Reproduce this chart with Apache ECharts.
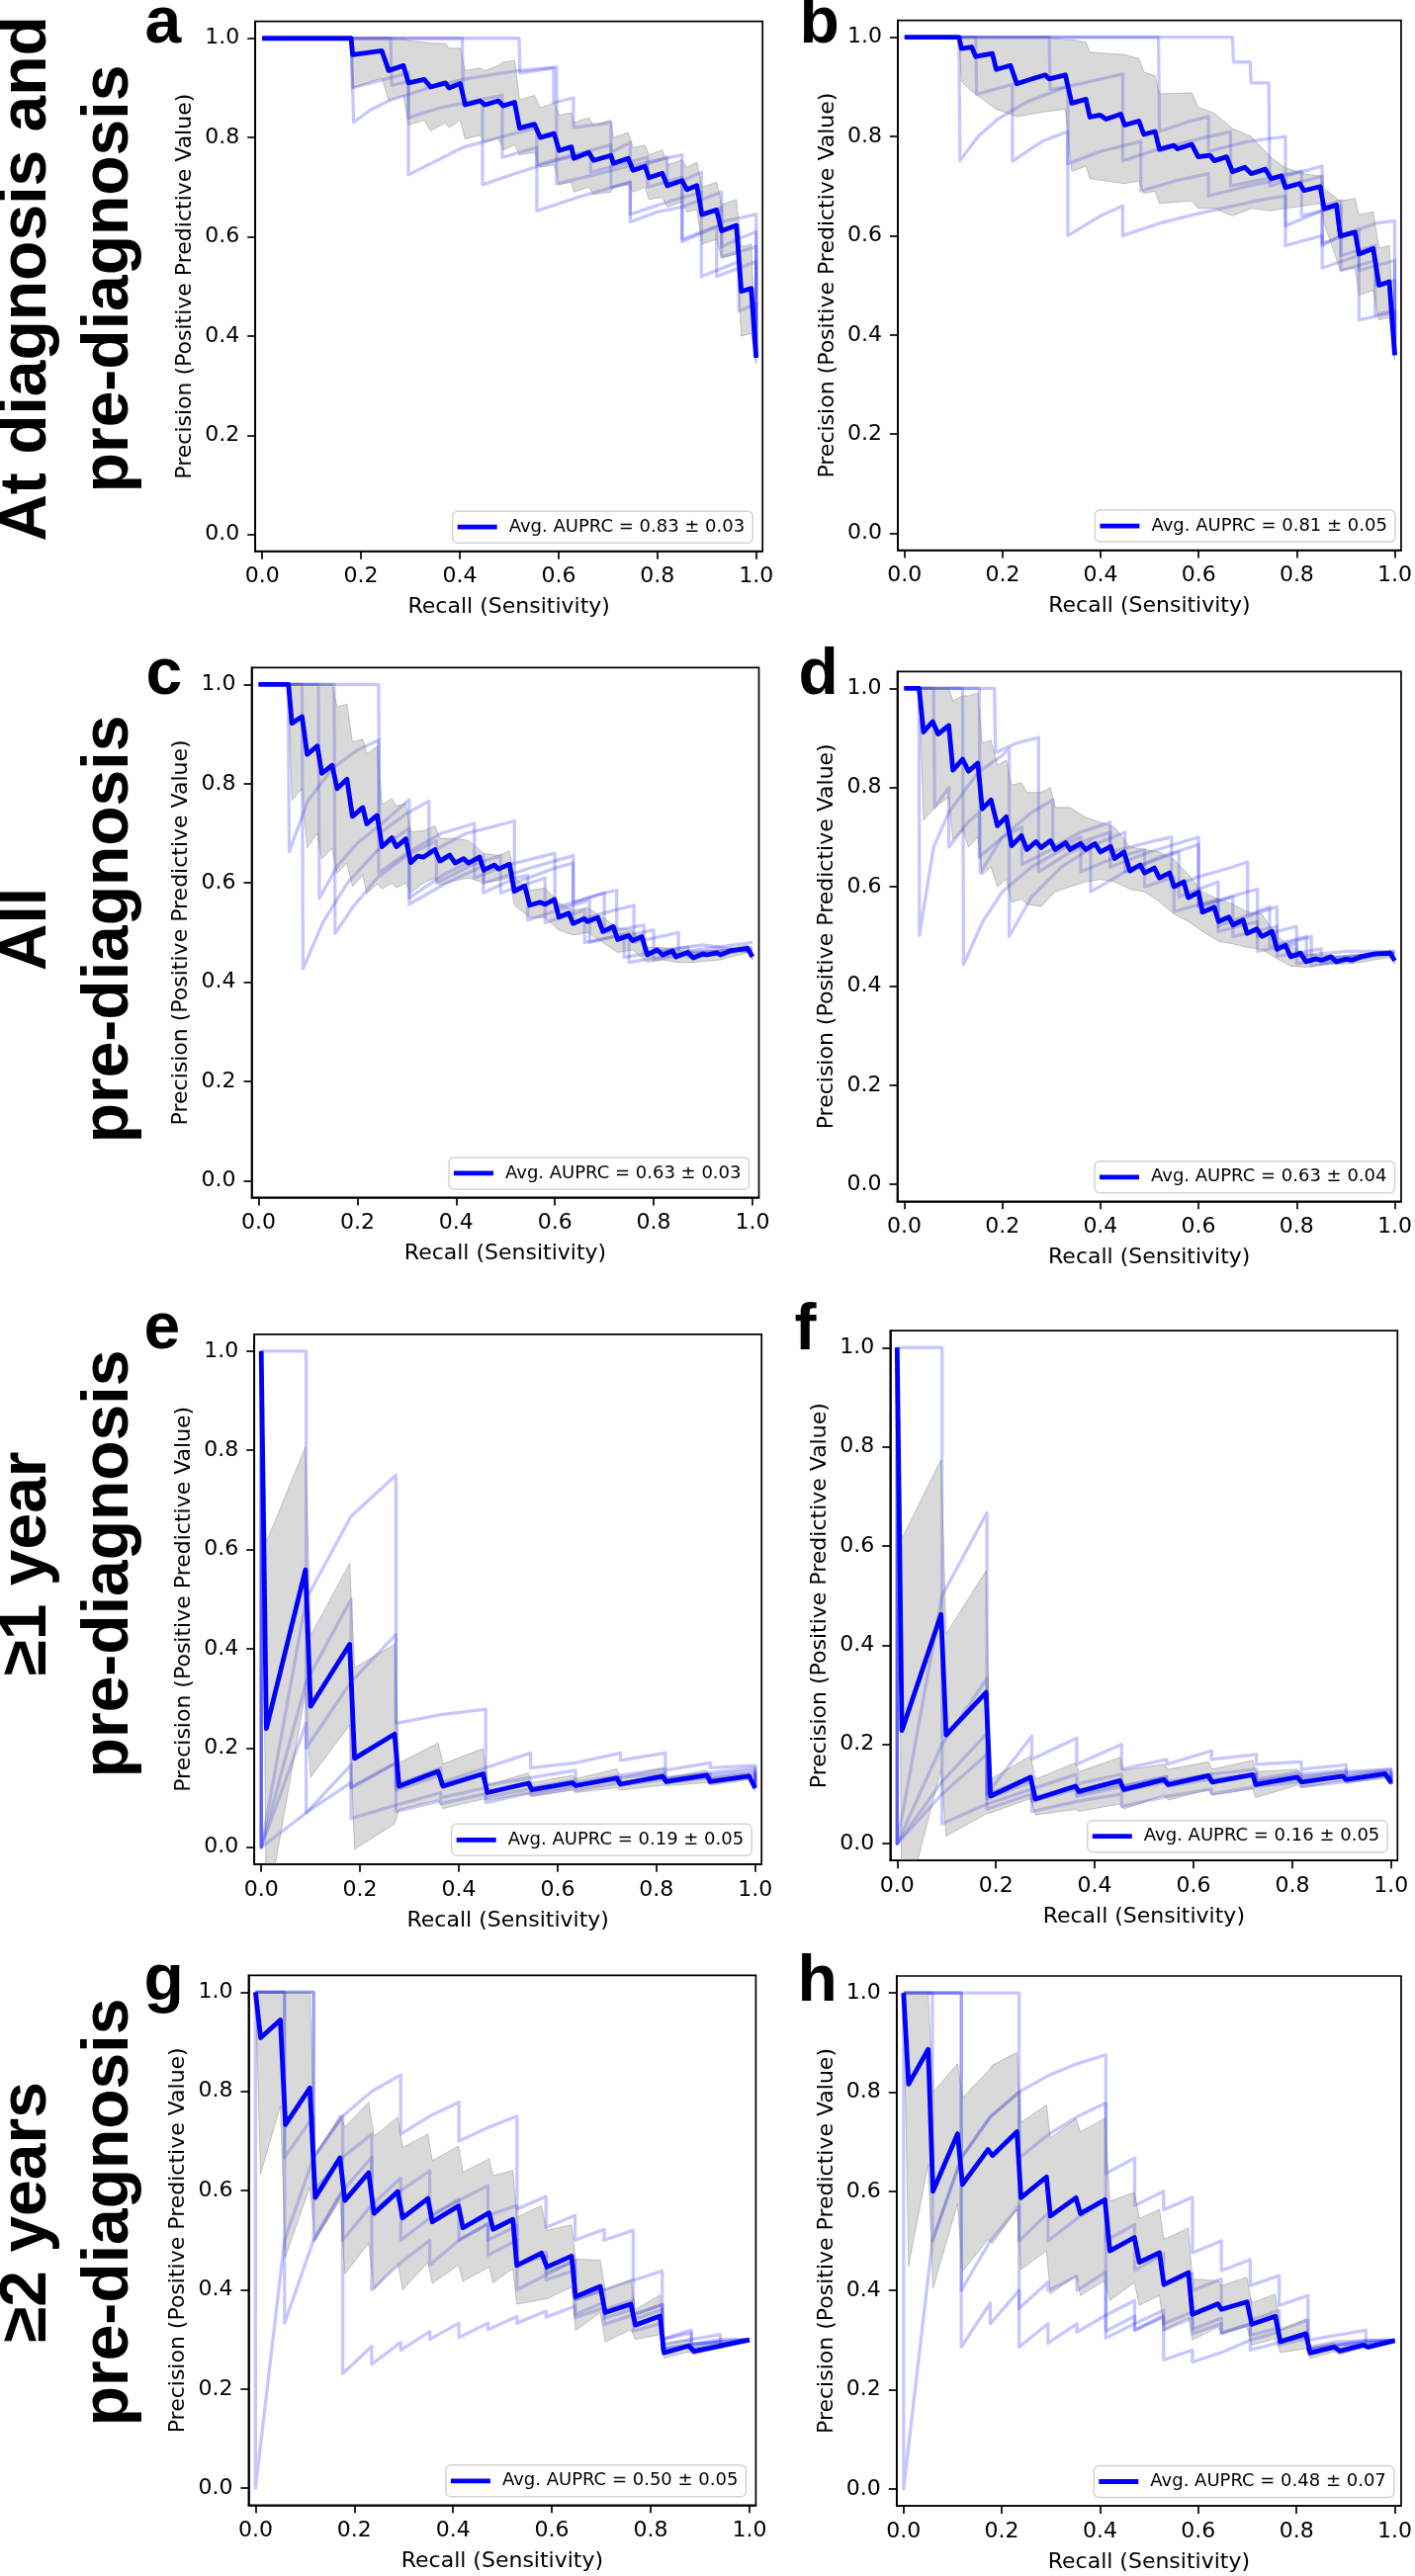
<!DOCTYPE html>
<html>
<head>
<meta charset="utf-8">
<script src="https://cdn.jsdelivr.net/npm/echarts@6/dist/echarts.min.js"></script>
<style>
html,body{margin:0;padding:0;background:#fff;}
#chart{width:1431px;height:2606px;}
</style>
</head>
<body>
<div id="chart"></div>
<script>
// ---------------- DATA ----------------
const xTicks = [0, 0.2, 0.4, 0.6, 0.8, 1.0];
const yTicks = [0, 0.2, 0.4, 0.6, 0.8, 1.0];
const rowTitles = [["At diagnosis and", "pre-diagnosis"], ["All", "pre-diagnosis"], ["\u22651 year", "pre-diagnosis"], ["\u22652 years", "pre-diagnosis"]];
const panelLetters = ["a", "b", "c", "d", "e", "f", "g", "h"];
const aucLabels = ["Avg. AUPRC = 0.83 \u00b1 0.03", "Avg. AUPRC = 0.81 \u00b1 0.05", "Avg. AUPRC = 0.63 \u00b1 0.03", "Avg. AUPRC = 0.63 \u00b1 0.04",
                   "Avg. AUPRC = 0.19 \u00b1 0.05", "Avg. AUPRC = 0.16 \u00b1 0.05", "Avg. AUPRC = 0.50 \u00b1 0.05", "Avg. AUPRC = 0.48 \u00b1 0.07"];

// Panel a
const meanA = [[0,1],[0.18,1],[0.183,0.967],[0.242,0.975],[0.256,0.935],[0.286,0.945],[0.296,0.91],[0.328,0.917],[0.341,0.902],[0.371,0.91],[0.378,0.9],[0.401,0.909],[0.411,0.866],[0.441,0.874],[0.451,0.866],[0.478,0.874],[0.488,0.864],[0.511,0.871],[0.521,0.819],[0.551,0.827],[0.563,0.8],[0.591,0.808],[0.601,0.774],[0.626,0.781],[0.631,0.758],[0.661,0.77],[0.671,0.754],[0.706,0.764],[0.711,0.748],[0.741,0.758],[0.751,0.734],[0.775,0.742],[0.783,0.719],[0.81,0.728],[0.82,0.703],[0.85,0.713],[0.86,0.695],[0.88,0.703],[0.89,0.645],[0.92,0.654],[0.93,0.612],[0.96,0.623],[0.97,0.49],[0.99,0.496],[1.0,0.356]];
const bandA = [[0,1,1],[0.18,1,1],[0.183,0.90,1],[0.242,0.92,1],[0.256,0.876,1],[0.286,0.885,1],[0.296,0.825,0.995],[0.328,0.835,0.992],[0.341,0.813,0.99],[0.371,0.83,0.99],[0.378,0.82,0.98],[0.401,0.835,0.98],[0.411,0.797,0.935],[0.441,0.805,0.94],[0.451,0.79,0.935],[0.478,0.80,0.945],[0.488,0.775,0.952],[0.511,0.785,0.955],[0.521,0.765,0.876],[0.551,0.77,0.885],[0.563,0.74,0.86],[0.591,0.745,0.87],[0.601,0.705,0.845],[0.626,0.71,0.85],[0.631,0.69,0.83],[0.661,0.70,0.84],[0.671,0.685,0.825],[0.706,0.69,0.835],[0.711,0.70,0.80],[0.741,0.705,0.81],[0.751,0.69,0.78],[0.775,0.70,0.785],[0.783,0.675,0.765],[0.81,0.68,0.775],[0.82,0.66,0.745],[0.85,0.67,0.755],[0.86,0.65,0.74],[0.88,0.655,0.75],[0.89,0.585,0.70],[0.92,0.595,0.71],[0.93,0.557,0.665],[0.96,0.565,0.675],[0.97,0.40,0.58],[0.99,0.405,0.585],[1.0,0.345,0.37]];
const foldsA = [
 [[0,1],[0.18,1],[0.185,0.831],[0.22,0.856],[0.256,0.874],[0.33,0.898],[0.41,0.918],[0.52,0.935],[0.596,0.942],[0.596,0.707],[0.66,0.722],[0.74,0.742],[0.85,0.765],[0.85,0.66],[0.89,0.675],[0.93,0.69],[0.93,0.58],[0.97,0.598],[1.0,0.61],[1.0,0.36]],
 [[0,1],[0.26,1],[0.262,0.905],[0.296,0.913],[0.296,0.725],[0.35,0.752],[0.406,0.78],[0.48,0.80],[0.556,0.82],[0.556,0.745],[0.63,0.765],[0.706,0.785],[0.706,0.70],[0.745,0.71],[0.745,0.645],[0.82,0.67],[0.889,0.69],[0.889,0.52],[0.965,0.55],[0.965,0.45],[1.0,0.465],[1.0,0.36]],
 [[0,1],[0.405,1],[0.407,0.865],[0.446,0.872],[0.446,0.705],[0.52,0.73],[0.60,0.755],[0.665,0.77],[0.665,0.73],[0.78,0.76],[0.78,0.70],[0.85,0.72],[0.85,0.59],[0.92,0.62],[0.92,0.52],[1.0,0.55],[1.0,0.36]],
 [[0,1],[0.52,1],[0.522,0.93],[0.59,0.94],[0.59,0.87],[0.63,0.88],[0.63,0.82],[0.706,0.83],[0.706,0.77],[0.745,0.79],[0.745,0.735],[0.82,0.76],[0.82,0.70],[0.889,0.73],[0.889,0.64],[0.93,0.66],[0.93,0.63],[1.0,0.645],[1.0,0.36]],
 [[0,1],[0.18,1],[0.183,0.90],[0.22,0.91],[0.296,0.93],[0.296,0.84],[0.36,0.86],[0.486,0.885],[0.486,0.76],[0.556,0.78],[0.556,0.652],[0.64,0.68],[0.745,0.71],[0.745,0.63],[0.80,0.65],[0.85,0.66],[0.85,0.595],[0.93,0.625],[0.93,0.56],[1.0,0.58],[1.0,0.36]]
];

// Panel b
const meanB = [[0,1],[0.111,1],[0.116,0.977],[0.137,0.98],[0.145,0.961],[0.179,0.967],[0.187,0.935],[0.216,0.943],[0.229,0.906],[0.254,0.914],[0.287,0.924],[0.295,0.916],[0.328,0.924],[0.341,0.867],[0.37,0.875],[0.378,0.839],[0.399,0.843],[0.411,0.835],[0.441,0.845],[0.449,0.823],[0.478,0.831],[0.488,0.804],[0.511,0.81],[0.52,0.774],[0.549,0.782],[0.557,0.775],[0.586,0.784],[0.599,0.759],[0.623,0.762],[0.632,0.751],[0.657,0.759],[0.669,0.729],[0.694,0.738],[0.707,0.725],[0.736,0.734],[0.748,0.715],[0.769,0.721],[0.777,0.697],[0.806,0.705],[0.815,0.691],[0.848,0.699],[0.856,0.654],[0.881,0.662],[0.889,0.599],[0.919,0.607],[0.927,0.563],[0.956,0.574],[0.968,0.50],[0.989,0.507],[1.0,0.359]];
const bandB = [[0,1,1],[0.111,1,1],[0.116,0.91,1],[0.145,0.885,1],[0.187,0.855,1],[0.229,0.84,1],[0.287,0.85,1],[0.328,0.855,0.995],[0.341,0.73,0.995],[0.37,0.74,0.99],[0.378,0.715,0.97],[0.449,0.705,0.965],[0.478,0.71,0.957],[0.488,0.685,0.93],[0.511,0.69,0.922],[0.52,0.665,0.886],[0.586,0.67,0.888],[0.599,0.655,0.859],[0.632,0.655,0.847],[0.669,0.64,0.816],[0.707,0.655,0.80],[0.748,0.65,0.757],[0.777,0.655,0.737],[0.815,0.66,0.725],[0.848,0.665,0.72],[0.856,0.625,0.695],[0.889,0.53,0.67],[0.919,0.535,0.675],[0.927,0.48,0.642],[0.956,0.49,0.648],[0.968,0.43,0.575],[0.989,0.435,0.58],[1.0,0.35,0.37]];
const foldsB = [
 [[0,1],[0.111,1],[0.113,0.751],[0.15,0.80],[0.19,0.835],[0.25,0.87],[0.33,0.90],[0.445,0.926],[0.445,0.751],[0.52,0.775],[0.60,0.795],[0.665,0.81],[0.665,0.70],[0.74,0.715],[0.81,0.73],[0.81,0.64],[0.89,0.66],[0.89,0.56],[0.96,0.58],[0.96,0.44],[1.0,0.45],[1.0,0.36]],
 [[0,1],[0.145,1],[0.147,0.885],[0.22,0.905],[0.22,0.75],[0.28,0.79],[0.333,0.81],[0.333,0.60],[0.40,0.64],[0.445,0.66],[0.445,0.60],[0.52,0.625],[0.60,0.645],[0.67,0.66],[0.74,0.675],[0.777,0.68],[0.777,0.58],[0.852,0.60],[0.852,0.535],[0.927,0.56],[0.927,0.43],[1.0,0.445],[1.0,0.36]],
 [[0,1],[0.295,1],[0.297,0.895],[0.333,0.90],[0.333,0.745],[0.40,0.77],[0.482,0.79],[0.482,0.69],[0.55,0.71],[0.62,0.725],[0.62,0.68],[0.70,0.70],[0.777,0.715],[0.777,0.70],[0.852,0.72],[0.852,0.585],[0.927,0.61],[0.927,0.53],[1.0,0.55],[1.0,0.36]],
 [[0,1],[0.518,1],[0.52,0.81],[0.58,0.83],[0.62,0.84],[0.62,0.77],[0.70,0.79],[0.777,0.80],[0.777,0.72],[0.852,0.74],[0.852,0.66],[0.89,0.67],[0.89,0.60],[0.962,0.625],[1.0,0.63],[1.0,0.36]],
 [[0,1],[0.669,1],[0.671,0.95],[0.705,0.95],[0.707,0.908],[0.743,0.908],[0.745,0.70],[0.777,0.71],[0.777,0.62],[0.852,0.65],[0.852,0.58],[0.89,0.60],[0.89,0.53],[0.962,0.55],[0.962,0.50],[1.0,0.51],[1.0,0.36]]
];

// Panel c
const meanC = [[0,1],[0.0606,1],[0.0674,0.922],[0.0881,0.935],[0.0984,0.859],[0.119,0.876],[0.128,0.821],[0.149,0.837],[0.159,0.79],[0.179,0.809],[0.19,0.734],[0.211,0.752],[0.219,0.719],[0.24,0.736],[0.25,0.673],[0.27,0.691],[0.279,0.673],[0.298,0.689],[0.308,0.641],[0.322,0.654],[0.334,0.652],[0.357,0.667],[0.367,0.644],[0.387,0.656],[0.398,0.64],[0.415,0.649],[0.425,0.64],[0.447,0.652],[0.456,0.626],[0.477,0.636],[0.486,0.628],[0.508,0.638],[0.518,0.583],[0.539,0.594],[0.549,0.555],[0.57,0.561],[0.58,0.557],[0.599,0.567],[0.608,0.531],[0.628,0.539],[0.637,0.518],[0.659,0.528],[0.666,0.522],[0.687,0.53],[0.697,0.502],[0.718,0.512],[0.727,0.486],[0.749,0.494],[0.757,0.484],[0.776,0.492],[0.787,0.455],[0.807,0.465],[0.818,0.455],[0.838,0.463],[0.845,0.451],[0.869,0.46],[0.88,0.449],[0.9,0.457],[0.907,0.455],[0.928,0.459],[0.935,0.455],[0.955,0.463],[0.99,0.468],[1.0,0.451]];
const bandC = [[0,1,1],[0.0606,1,1],[0.0674,0.766,1],[0.0881,0.79,1],[0.0984,0.671,1],[0.119,0.70,1],[0.128,0.648,1],[0.149,0.67,1],[0.159,0.62,0.955],[0.179,0.64,0.96],[0.19,0.593,0.884],[0.211,0.615,0.89],[0.219,0.578,0.86],[0.24,0.598,0.875],[0.25,0.588,0.758],[0.27,0.60,0.77],[0.279,0.59,0.755],[0.298,0.60,0.76],[0.308,0.58,0.703],[0.334,0.60,0.705],[0.357,0.61,0.715],[0.367,0.595,0.69],[0.398,0.605,0.69],[0.425,0.61,0.685],[0.456,0.60,0.66],[0.486,0.605,0.655],[0.508,0.61,0.665],[0.518,0.555,0.61],[0.549,0.53,0.585],[0.58,0.53,0.59],[0.608,0.505,0.56],[0.637,0.495,0.545],[0.666,0.50,0.55],[0.697,0.48,0.53],[0.727,0.46,0.51],[0.757,0.465,0.505],[0.787,0.44,0.47],[0.818,0.445,0.47],[0.845,0.44,0.465],[0.88,0.44,0.46],[0.935,0.445,0.465],[0.99,0.46,0.475],[1.0,0.445,0.46]];
const foldsC = [
 [[0,1],[0.243,1],[0.245,0.70],[0.30,0.74],[0.345,0.765],[0.345,0.66],[0.42,0.70],[0.50,0.72],[0.518,0.725],[0.518,0.60],[0.60,0.63],[0.637,0.64],[0.637,0.52],[0.70,0.54],[0.76,0.555],[0.76,0.48],[0.85,0.50],[0.85,0.46],[1.0,0.48]],
 [[0,1],[0.06,1],[0.062,0.663],[0.10,0.766],[0.15,0.831],[0.20,0.868],[0.243,0.888],[0.243,0.62],[0.30,0.66],[0.37,0.70],[0.437,0.72],[0.437,0.61],[0.50,0.635],[0.58,0.655],[0.60,0.66],[0.60,0.55],[0.70,0.58],[0.70,0.50],[0.78,0.515],[0.78,0.46],[0.90,0.475],[1.0,0.46]],
 [[0,1],[0.088,1],[0.09,0.427],[0.13,0.52],[0.18,0.60],[0.24,0.665],[0.305,0.71],[0.305,0.57],[0.38,0.62],[0.455,0.655],[0.455,0.58],[0.52,0.61],[0.545,0.615],[0.545,0.525],[0.62,0.55],[0.67,0.565],[0.67,0.48],[0.75,0.50],[0.75,0.44],[0.87,0.46],[1.0,0.465]],
 [[0,1],[0.121,1],[0.123,0.569],[0.16,0.635],[0.20,0.68],[0.25,0.72],[0.305,0.768],[0.305,0.557],[0.38,0.60],[0.456,0.635],[0.456,0.60],[0.55,0.63],[0.637,0.655],[0.637,0.56],[0.70,0.58],[0.725,0.585],[0.725,0.49],[0.80,0.505],[0.80,0.445],[0.90,0.46],[1.0,0.47]],
 [[0,1],[0.153,1],[0.155,0.498],[0.19,0.55],[0.24,0.61],[0.30,0.655],[0.36,0.685],[0.36,0.60],[0.43,0.635],[0.49,0.655],[0.49,0.58],[0.55,0.60],[0.58,0.61],[0.58,0.52],[0.66,0.545],[0.66,0.48],[0.74,0.495],[0.74,0.45],[0.87,0.47],[0.87,0.45],[1.0,0.465]]
];

// Panel d
const meanD = [[0,1],[0.0303,1],[0.0393,0.912],[0.0579,0.933],[0.069,0.908],[0.091,0.925],[0.0993,0.835],[0.119,0.857],[0.131,0.833],[0.15,0.849],[0.159,0.757],[0.177,0.775],[0.19,0.723],[0.208,0.741],[0.219,0.683],[0.239,0.703],[0.25,0.675],[0.269,0.691],[0.279,0.679],[0.298,0.693],[0.308,0.675],[0.329,0.689],[0.338,0.675],[0.36,0.687],[0.37,0.675],[0.389,0.687],[0.40,0.67],[0.421,0.681],[0.429,0.657],[0.448,0.67],[0.46,0.632],[0.481,0.644],[0.49,0.628],[0.51,0.638],[0.52,0.618],[0.541,0.628],[0.55,0.60],[0.57,0.61],[0.579,0.578],[0.60,0.589],[0.608,0.549],[0.632,0.559],[0.641,0.53],[0.662,0.539],[0.67,0.523],[0.691,0.533],[0.699,0.506],[0.719,0.515],[0.729,0.50],[0.75,0.51],[0.76,0.474],[0.777,0.482],[0.788,0.459],[0.808,0.466],[0.819,0.449],[0.839,0.455],[0.85,0.452],[0.87,0.459],[0.881,0.449],[0.901,0.454],[0.912,0.452],[0.932,0.459],[0.96,0.465],[0.991,0.466],[1.0,0.451]];
const bandD = [[0,1,1],[0.0303,1,1],[0.0393,0.734,1],[0.069,0.766,1],[0.091,0.78,1],[0.0993,0.695,0.975],[0.119,0.715,0.985],[0.131,0.68,0.985],[0.15,0.70,0.99],[0.159,0.624,0.89],[0.177,0.64,0.895],[0.19,0.60,0.845],[0.208,0.615,0.855],[0.219,0.569,0.805],[0.239,0.575,0.81],[0.25,0.565,0.79],[0.279,0.56,0.79],[0.298,0.58,0.80],[0.308,0.59,0.76],[0.338,0.60,0.76],[0.37,0.61,0.74],[0.40,0.615,0.73],[0.429,0.61,0.72],[0.46,0.595,0.68],[0.49,0.59,0.675],[0.52,0.57,0.67],[0.55,0.545,0.655],[0.579,0.53,0.625],[0.608,0.51,0.59],[0.641,0.49,0.575],[0.67,0.485,0.565],[0.699,0.478,0.55],[0.729,0.474,0.545],[0.76,0.455,0.50],[0.788,0.44,0.48],[0.819,0.438,0.465],[0.85,0.443,0.462],[0.912,0.445,0.46],[0.991,0.458,0.472],[1.0,0.445,0.458]];
const foldsD = [
 [[0,1],[0.03,1],[0.031,0.502],[0.06,0.68],[0.091,0.75],[0.15,0.83],[0.20,0.865],[0.214,0.878],[0.214,0.50],[0.26,0.58],[0.32,0.64],[0.40,0.69],[0.45,0.71],[0.45,0.63],[0.52,0.66],[0.60,0.685],[0.60,0.56],[0.67,0.58],[0.67,0.50],[0.76,0.52],[0.76,0.46],[0.85,0.475],[0.85,0.445],[1.0,0.465]],
 [[0,1],[0.184,1],[0.186,0.87],[0.23,0.89],[0.274,0.901],[0.274,0.63],[0.33,0.665],[0.38,0.69],[0.38,0.59],[0.45,0.63],[0.53,0.66],[0.56,0.67],[0.56,0.58],[0.64,0.61],[0.64,0.52],[0.72,0.55],[0.745,0.56],[0.745,0.48],[0.82,0.50],[0.82,0.45],[1.0,0.47]],
 [[0,1],[0.119,1],[0.121,0.443],[0.16,0.53],[0.20,0.59],[0.26,0.64],[0.33,0.68],[0.42,0.71],[0.42,0.64],[0.50,0.67],[0.60,0.70],[0.60,0.62],[0.67,0.64],[0.70,0.65],[0.70,0.54],[0.76,0.56],[0.76,0.48],[0.83,0.50],[0.83,0.44],[0.95,0.465],[1.0,0.465]],
 [[0,1],[0.153,1],[0.155,0.628],[0.20,0.70],[0.26,0.75],[0.303,0.775],[0.303,0.68],[0.36,0.71],[0.42,0.73],[0.42,0.67],[0.50,0.69],[0.545,0.70],[0.545,0.60],[0.60,0.62],[0.60,0.56],[0.70,0.59],[0.72,0.595],[0.72,0.50],[0.80,0.52],[0.80,0.46],[0.90,0.47],[1.0,0.47]],
 [[0,1],[0.06,1],[0.062,0.76],[0.091,0.80],[0.091,0.68],[0.13,0.73],[0.153,0.75],[0.153,0.66],[0.20,0.70],[0.24,0.72],[0.24,0.645],[0.30,0.675],[0.36,0.70],[0.36,0.63],[0.42,0.655],[0.49,0.675],[0.49,0.60],[0.55,0.62],[0.55,0.55],[0.64,0.575],[0.64,0.51],[0.72,0.53],[0.72,0.47],[0.80,0.485],[0.80,0.445],[0.90,0.46],[1.0,0.465]]
];

// Panel e
const meanE = [[0,1],[0.0103,0.239],[0.0895,0.559],[0.0999,0.284],[0.179,0.409],[0.189,0.179],[0.27,0.228],[0.279,0.123],[0.358,0.153],[0.368,0.123],[0.449,0.148],[0.458,0.11],[0.541,0.129],[0.548,0.116],[0.63,0.13],[0.637,0.124],[0.72,0.139],[0.727,0.127],[0.813,0.143],[0.82,0.132],[0.902,0.145],[0.909,0.132],[0.988,0.143],[1.0,0.119]];
const bandE = [[0,1,1],[0.0103,-0.137,0.615],[0.0895,0.311,0.807],[0.0999,0.141,0.427],[0.179,0.246,0.572],[0.189,-0.004,0.362],[0.27,0.047,0.409],[0.279,0.076,0.17],[0.358,0.096,0.21],[0.368,0.078,0.168],[0.449,0.097,0.199],[0.458,0.095,0.125],[0.541,0.108,0.15],[0.548,0.102,0.13],[0.63,0.115,0.145],[0.637,0.11,0.138],[0.72,0.12,0.158],[0.727,0.115,0.14],[0.813,0.125,0.16],[0.82,0.124,0.14],[0.902,0.13,0.155],[0.909,0.125,0.14],[0.988,0.136,0.15],[1.0,0.113,0.125]];
const foldsE = [
 [[0,1],[0.0909,1],[0.0909,0.07],[0.1818,0.13],[0.1818,0.12],[0.2727,0.17],[0.2727,0.115],[0.3636,0.145],[0.3636,0.125],[0.4545,0.15],[0.4545,0.125],[0.5455,0.14],[0.6364,0.155],[0.6364,0.13],[0.7273,0.145],[0.8182,0.158],[0.8182,0.14],[0.9091,0.15],[1.0,0.16],[1.0,0.125]],
 [[0,1],[0,0],[0.0909,0.5],[0.1818,0.667],[0.2727,0.75],[0.2727,0.072],[0.3636,0.094],[0.3636,0.088],[0.4545,0.108],[0.4545,0.1],[0.5455,0.118],[0.5455,0.11],[0.6364,0.125],[0.7273,0.14],[0.7273,0.125],[0.8182,0.137],[0.9091,0.148],[0.9091,0.135],[1.0,0.145],[1.0,0.125]],
 [[0,1],[0,0],[0.0909,0.333],[0.1818,0.5],[0.1818,0.058],[0.2727,0.085],[0.3636,0.11],[0.3636,0.1],[0.4545,0.12],[0.4545,0.11],[0.5455,0.13],[0.5455,0.12],[0.6364,0.135],[0.6364,0.125],[0.7273,0.14],[0.8182,0.15],[0.8182,0.135],[0.9091,0.145],[1.0,0.155],[1.0,0.125]],
 [[0,1],[0,0],[0.0909,0.25],[0.0909,0.2],[0.1818,0.333],[0.2727,0.429],[0.2727,0.25],[0.3636,0.267],[0.4545,0.278],[0.4545,0.09],[0.5455,0.11],[0.5455,0.105],[0.6364,0.12],[0.6364,0.115],[0.7273,0.13],[0.8182,0.14],[0.8182,0.13],[0.9091,0.14],[1.0,0.15],[1.0,0.125]],
 [[0,1],[0,0],[0.0909,0.069],[0.1818,0.166],[0.1818,0.12],[0.2727,0.17],[0.2727,0.125],[0.3636,0.16],[0.3636,0.13],[0.4545,0.16],[0.5455,0.19],[0.5455,0.16],[0.6364,0.17],[0.7273,0.19],[0.7273,0.175],[0.8182,0.19],[0.8182,0.155],[0.9091,0.17],[0.9091,0.16],[1.0,0.165],[1.0,0.125]]
];

// Panel f
const meanF = [[0,1],[0.0096,0.228],[0.0889,0.462],[0.0992,0.219],[0.18,0.305],[0.189,0.096],[0.27,0.134],[0.28,0.09],[0.361,0.116],[0.368,0.105],[0.451,0.127],[0.459,0.109],[0.54,0.129],[0.549,0.119],[0.63,0.137],[0.638,0.124],[0.72,0.139],[0.726,0.119],[0.81,0.134],[0.819,0.124],[0.902,0.136],[0.909,0.129],[0.988,0.141],[1.0,0.123]];
const bandF = [[0,1,1],[0.0096,-0.159,0.615],[0.0889,0.15,0.774],[0.0992,0.015,0.423],[0.18,0.06,0.55],[0.189,0.062,0.13],[0.27,0.091,0.177],[0.28,0.058,0.13],[0.361,0.069,0.163],[0.368,0.065,0.145],[0.451,0.08,0.174],[0.459,0.07,0.148],[0.54,0.098,0.16],[0.549,0.088,0.15],[0.63,0.109,0.165],[0.638,0.098,0.15],[0.72,0.11,0.168],[0.726,0.093,0.145],[0.81,0.118,0.15],[0.819,0.113,0.135],[0.902,0.127,0.145],[0.909,0.121,0.137],[0.988,0.134,0.148],[1.0,0.118,0.128]];
const foldsF = [
 [[0,1],[0.0909,1],[0.0909,0.04],[0.1818,0.08],[0.2727,0.11],[0.2727,0.09],[0.3636,0.115],[0.3636,0.1],[0.4545,0.12],[0.4545,0.105],[0.5455,0.125],[0.6364,0.14],[0.6364,0.125],[0.7273,0.14],[0.7273,0.125],[0.8182,0.135],[0.9091,0.145],[0.9091,0.13],[1.0,0.14],[1.0,0.12]],
 [[0,1],[0,0],[0.0909,0.5],[0.1818,0.667],[0.1818,0.1],[0.2727,0.135],[0.2727,0.11],[0.3636,0.14],[0.3636,0.12],[0.4545,0.14],[0.4545,0.115],[0.5455,0.135],[0.5455,0.12],[0.6364,0.14],[0.7273,0.15],[0.7273,0.13],[0.8182,0.145],[0.8182,0.13],[0.9091,0.14],[1.0,0.15],[1.0,0.12]],
 [[0,1],[0,0],[0.0909,0.2],[0.1818,0.333],[0.1818,0.1],[0.2727,0.217],[0.2727,0.17],[0.3636,0.213],[0.3636,0.16],[0.4545,0.2],[0.4545,0.15],[0.5455,0.17],[0.5455,0.16],[0.6364,0.187],[0.6364,0.17],[0.7273,0.18],[0.7273,0.16],[0.8182,0.165],[0.8182,0.15],[0.9091,0.159],[0.9091,0.145],[1.0,0.15],[1.0,0.12]],
 [[0,1],[0,0],[0.0909,0.125],[0.1818,0.222],[0.1818,0.07],[0.2727,0.1],[0.2727,0.065],[0.3636,0.085],[0.4545,0.1],[0.4545,0.075],[0.5455,0.095],[0.6364,0.11],[0.6364,0.1],[0.7273,0.115],[0.8182,0.125],[0.8182,0.115],[0.9091,0.125],[1.0,0.135],[1.0,0.12]],
 [[0,1],[0,0],[0.0909,0.1],[0.1818,0.18],[0.1818,0.09],[0.2727,0.125],[0.2727,0.085],[0.3636,0.11],[0.3636,0.095],[0.4545,0.115],[0.5455,0.135],[0.5455,0.115],[0.6364,0.13],[0.7273,0.14],[0.7273,0.125],[0.8182,0.14],[0.9091,0.148],[0.9091,0.135],[1.0,0.145],[1.0,0.12]]
];

// Panel g
const meanG = [[0,1],[0.0103,0.908],[0.0503,0.944],[0.0606,0.733],[0.11,0.807],[0.121,0.586],[0.171,0.666],[0.181,0.58],[0.229,0.636],[0.24,0.554],[0.288,0.598],[0.298,0.545],[0.349,0.584],[0.358,0.537],[0.411,0.569],[0.42,0.525],[0.473,0.555],[0.481,0.522],[0.521,0.542],[0.529,0.449],[0.579,0.474],[0.59,0.446],[0.64,0.468],[0.648,0.386],[0.698,0.407],[0.708,0.354],[0.76,0.371],[0.769,0.329],[0.819,0.347],[0.827,0.273],[0.877,0.287],[0.888,0.276],[1.0,0.299]];
const bandG = [[0,1,1],[0.0103,0.634,1],[0.0503,0.771,1],[0.0606,0.466,1],[0.11,0.607,1],[0.121,0.50,0.668],[0.171,0.58,0.752],[0.181,0.432,0.728],[0.229,0.494,0.778],[0.24,0.401,0.71],[0.288,0.455,0.748],[0.298,0.40,0.687],[0.349,0.455,0.714],[0.358,0.413,0.66],[0.411,0.45,0.69],[0.42,0.417,0.637],[0.473,0.446,0.664],[0.481,0.414,0.63],[0.521,0.443,0.641],[0.529,0.371,0.546],[0.579,0.38,0.57],[0.59,0.382,0.52],[0.64,0.405,0.531],[0.648,0.318,0.462],[0.698,0.354,0.46],[0.708,0.295,0.40],[0.76,0.32,0.42],[0.769,0.30,0.36],[0.819,0.31,0.39],[0.827,0.262,0.29],[0.877,0.275,0.30],[0.888,0.27,0.283],[1.0,0.296,0.302]];
const foldsG = [
 [[0,1],[0,0],[0.0588,0.5],[0.1176,0.667],[0.1765,0.75],[0.1765,0.231],[0.2353,0.286],[0.2353,0.25],[0.2941,0.294],[0.2941,0.278],[0.3529,0.316],[0.3529,0.3],[0.4118,0.333],[0.4118,0.304],[0.4706,0.333],[0.4706,0.32],[0.5294,0.346],[0.5294,0.333],[0.5882,0.357],[0.5882,0.345],[0.6471,0.367],[0.6471,0.344],[0.7059,0.364],[0.7059,0.343],[0.7647,0.361],[0.7647,0.317],[0.8235,0.333],[0.8235,0.30],[0.8824,0.313],[0.8824,0.283],[0.9412,0.296],[0.9412,0.286],[1.0,0.298]],
 [[0,1],[0.0588,1],[0.1176,1],[0.1176,0.667],[0.1765,0.75],[0.2353,0.8],[0.2941,0.833],[0.2941,0.714],[0.3529,0.75],[0.4118,0.778],[0.4118,0.7],[0.4706,0.727],[0.5294,0.75],[0.5294,0.563],[0.5882,0.588],[0.5882,0.526],[0.6471,0.55],[0.6471,0.5],[0.7059,0.522],[0.7059,0.5],[0.7647,0.52],[0.7647,0.419],[0.8235,0.438],[0.8235,0.30],[0.8824,0.319],[0.8824,0.29],[0.9412,0.30],[1.0,0.30]],
 [[0,1],[0.0588,1],[0.0588,0.333],[0.1176,0.5],[0.1765,0.6],[0.1765,0.5],[0.2353,0.571],[0.2941,0.625],[0.2941,0.5],[0.3529,0.545],[0.4118,0.583],[0.4118,0.5],[0.4706,0.533],[0.4706,0.47],[0.5294,0.5],[0.5294,0.45],[0.5882,0.476],[0.5882,0.435],[0.6471,0.458],[0.6471,0.38],[0.7059,0.4],[0.7059,0.36],[0.7647,0.38],[0.7647,0.34],[0.8235,0.36],[0.8235,0.29],[0.8824,0.30],[0.9412,0.31],[0.9412,0.29],[1.0,0.30]],
 [[0,1],[0.0588,1],[0.1176,1],[0.1176,0.5],[0.1765,0.6],[0.2353,0.667],[0.2353,0.4],[0.2941,0.455],[0.3529,0.5],[0.3529,0.45],[0.4118,0.5],[0.4706,0.533],[0.4706,0.5],[0.5294,0.529],[0.5294,0.4],[0.5882,0.43],[0.6471,0.46],[0.6471,0.35],[0.7059,0.375],[0.7059,0.33],[0.7647,0.35],[0.8235,0.37],[0.8235,0.28],[0.8824,0.29],[1.0,0.30]],
 [[0,1],[0.0588,1],[0.0588,0.667],[0.1176,0.75],[0.1176,0.6],[0.1765,0.667],[0.2353,0.714],[0.2353,0.56],[0.2941,0.6],[0.3529,0.64],[0.3529,0.55],[0.4118,0.58],[0.4706,0.61],[0.4706,0.55],[0.5294,0.57],[0.5294,0.45],[0.5882,0.47],[0.5882,0.42],[0.6471,0.44],[0.6471,0.38],[0.7059,0.40],[0.7647,0.42],[0.7647,0.35],[0.8235,0.37],[0.8235,0.28],[0.8824,0.29],[1.0,0.30]]
];

// Panel h
const meanH = [[0,1],[0.0103,0.816],[0.0502,0.886],[0.0599,0.60],[0.11,0.716],[0.12,0.614],[0.172,0.684],[0.181,0.672],[0.231,0.72],[0.239,0.587],[0.291,0.629],[0.299,0.55],[0.351,0.587],[0.36,0.555],[0.41,0.583],[0.42,0.48],[0.47,0.507],[0.48,0.457],[0.521,0.476],[0.53,0.412],[0.58,0.436],[0.588,0.352],[0.64,0.373],[0.647,0.362],[0.699,0.377],[0.709,0.332],[0.757,0.348],[0.767,0.297],[0.819,0.313],[0.828,0.274],[0.877,0.286],[0.888,0.278],[0.936,0.29],[0.946,0.286],[1.0,0.299]];
const bandH = [[0,1,1],[0.0103,0.45,1],[0.0502,0.655,1],[0.0599,0.404,0.80],[0.11,0.575,0.857],[0.12,0.438,0.789],[0.172,0.503,0.842],[0.181,0.495,0.854],[0.231,0.564,0.88],[0.239,0.442,0.739],[0.291,0.48,0.774],[0.299,0.393,0.707],[0.351,0.43,0.747],[0.36,0.39,0.72],[0.41,0.42,0.747],[0.42,0.38,0.58],[0.47,0.416,0.598],[0.48,0.37,0.545],[0.521,0.39,0.564],[0.53,0.32,0.503],[0.58,0.346,0.526],[0.588,0.30,0.423],[0.64,0.326,0.42],[0.647,0.314,0.41],[0.699,0.327,0.427],[0.709,0.29,0.375],[0.757,0.303,0.393],[0.767,0.275,0.32],[0.819,0.283,0.343],[0.828,0.263,0.285],[0.877,0.277,0.295],[0.888,0.271,0.285],[0.936,0.285,0.295],[0.946,0.282,0.29],[1.0,0.296,0.302]];
const foldsH = [
 [[0,1],[0,0],[0.0588,0.5],[0.1176,0.667],[0.1765,0.75],[0.2353,0.8],[0.2941,0.833],[0.3529,0.857],[0.4118,0.875],[0.4118,0.304],[0.4706,0.333],[0.4706,0.32],[0.5294,0.346],[0.5294,0.333],[0.5882,0.357],[0.5882,0.313],[0.6471,0.333],[0.6471,0.314],[0.7059,0.333],[0.7059,0.3],[0.7647,0.317],[0.7647,0.29],[0.8235,0.304],[0.8235,0.28],[0.8824,0.29],[0.9412,0.3],[0.9412,0.29],[1.0,0.30]],
 [[0,1],[0.2353,1],[0.2353,0.286],[0.2941,0.333],[0.2941,0.294],[0.3529,0.333],[0.3529,0.316],[0.4118,0.35],[0.4118,0.318],[0.4706,0.348],[0.4706,0.333],[0.5294,0.36],[0.5294,0.32],[0.5882,0.345],[0.5882,0.322],[0.6471,0.344],[0.6471,0.314],[0.7059,0.333],[0.7059,0.31],[0.7647,0.325],[0.7647,0.295],[0.8235,0.31],[0.8235,0.285],[0.8824,0.297],[1.0,0.30]],
 [[0,1],[0.1176,1],[0.1176,0.286],[0.1765,0.375],[0.1765,0.333],[0.2353,0.4],[0.2353,0.364],[0.2941,0.417],[0.2941,0.4],[0.3529,0.429],[0.3529,0.4],[0.4118,0.4375],[0.4118,0.35],[0.4706,0.38],[0.4706,0.32],[0.5294,0.35],[0.5294,0.26],[0.5882,0.28],[0.5882,0.256],[0.6471,0.275],[0.7059,0.3],[0.7059,0.28],[0.7647,0.295],[0.8235,0.31],[0.8235,0.28],[0.8824,0.29],[1.0,0.30]],
 [[0,1],[0.0588,1],[0.1176,1],[0.1176,0.667],[0.1765,0.75],[0.2353,0.8],[0.2353,0.667],[0.2941,0.714],[0.3529,0.75],[0.4118,0.778],[0.4118,0.636],[0.4706,0.667],[0.4706,0.571],[0.5294,0.6],[0.5294,0.5625],[0.5882,0.588],[0.5882,0.476],[0.6471,0.5],[0.6471,0.44],[0.7059,0.462],[0.7059,0.41],[0.7647,0.43],[0.7647,0.37],[0.8235,0.39],[0.8235,0.30],[0.8824,0.31],[0.9412,0.32],[0.9412,0.3],[1.0,0.30]],
 [[0,1],[0.0588,1],[0.0588,0.5],[0.1176,0.667],[0.1176,0.4],[0.1765,0.5],[0.2353,0.571],[0.2353,0.5],[0.2941,0.556],[0.2941,0.5],[0.3529,0.545],[0.4118,0.583],[0.4118,0.5],[0.4706,0.533],[0.4706,0.44],[0.5294,0.474],[0.5294,0.41],[0.5882,0.435],[0.5882,0.4],[0.6471,0.423],[0.6471,0.36],[0.7059,0.38],[0.7059,0.34],[0.7647,0.36],[0.7647,0.32],[0.8235,0.34],[0.8235,0.28],[0.8824,0.29],[1.0,0.30]]
];

const meanList = [meanA, meanB, meanC, meanD, meanE, meanF, meanG, meanH];
const bandList = [bandA, bandB, bandC, bandD, bandE, bandF, bandG, bandH];
const foldList = [foldsA, foldsB, foldsC, foldsD, foldsE, foldsF, foldsG, foldsH];

// ---------------- LAYOUT (pixels) ----------------
const W = 1431, H = 2606;
const FW = 513, FH = 536;
const frames = [[258.2,21.7],[907.9,20.6],[254.5,675.4],[907.5,679.3],[257.2,1349.8],[900.3,1346.2],[251.4,1998.3],[906.8,1999]];
const letterPos = [[146.5,47],[808.5,47],[147.5,706],[807.5,706],[145.5,1368],[803.5,1369],[145.5,2027],[806.5,2028]];
const rowCenters = [282, 940, 1582, 2238];
const TXT = '#000';
const FONT = 'DejaVu Sans';
const BIG = 'bold 66px "Liberation Sans", Arial, sans-serif';
const BASE_OFF = 22; // middle->baseline offset for 66px text

const grids = [], xAxes = [], yAxes = [], series = [], legends = [];
frames.forEach(function (f, i) {
  grids.push({left: f[0], top: f[1], width: FW, height: FH, show: true, borderColor: '#000', borderWidth: 1.7, backgroundColor: '#fff', containLabel: false});
  xAxes.push({
    type: 'value', gridIndex: i, min: -0.014, max: 1.013,
    axisLine: {show: true, onZero: false, lineStyle: {color: '#000', width: 1.7}},
    axisTick: {show: true, length: 8, lineStyle: {color: '#000', width: 1.7}, customValues: xTicks},
    axisLabel: {customValues: xTicks, formatter: function (v) { return v.toFixed(1); }, fontSize: 22, color: TXT, fontFamily: FONT, margin: 15},
    splitLine: {show: false},
    name: 'Recall (Sensitivity)', nameLocation: 'middle', nameGap: 46,
    nameTextStyle: {fontSize: 22, color: TXT, fontFamily: FONT}
  });
  yAxes.push({
    type: 'value', gridIndex: i, min: -0.034, max: 1.034,
    axisLine: {show: true, onZero: false, lineStyle: {color: '#000', width: 1.7}},
    axisTick: {show: true, length: 8, lineStyle: {color: '#000', width: 1.7}, customValues: yTicks},
    axisLabel: {customValues: yTicks, formatter: function (v) { return v.toFixed(1); }, fontSize: 22, color: TXT, fontFamily: FONT, margin: 16},
    splitLine: {show: false},
    name: 'Precision (Positive Predictive Value)', nameLocation: 'middle', nameGap: 60, nameRotate: 90,
    nameTextStyle: {fontSize: 22, color: TXT, fontFamily: FONT}
  });
  // individual folds
  foldList[i].forEach(function (fold, k) {
    series.push({
      type: 'line', name: 'fold' + i + '_' + k, xAxisIndex: i, yAxisIndex: i, data: fold,
      showSymbol: false, symbol: 'none', silent: true, z: 2, clip: true,
      lineStyle: {color: 'rgba(0,0,255,0.22)', width: 3.3, join: 'round'}
    });
  });
  // std band
  const band = bandList[i];
  series.push({
    type: 'custom', name: 'band' + i, xAxisIndex: i, yAxisIndex: i, data: band, silent: true, z: 3, clip: true,
    encode: {x: 0, y: [1, 2]},
    renderItem: function (params, api) {
      if (params.dataIndex !== 0) return;
      const upper = band.map(function (r) { return api.coord([r[0], r[2]]); });
      const lower = band.slice().reverse().map(function (r) { return api.coord([r[0], r[1]]); });
      const cs = params.coordSys;
      return {
        type: 'group',
        clipPath: {type: 'rect', shape: {x: cs.x, y: cs.y, width: cs.width, height: cs.height}},
        children: [{
          type: 'polygon',
          shape: {points: upper.concat(lower)},
          style: {fill: 'rgba(128,128,128,0.3)', stroke: 'rgba(110,110,110,0.35)', lineWidth: 1}
        }]
      };
    }
  });
  // mean curve
  series.push({
    type: 'line', name: aucLabels[i], xAxisIndex: i, yAxisIndex: i, data: meanList[i],
    showSymbol: false, symbol: 'none', z: 4, clip: true, color: '#0000ff',
    itemStyle: {color: '#0000ff'},
    lineStyle: {color: '#0000ff', width: 4.8, join: 'round'}
  });
  legends.push({
    data: [aucLabels[i]], selectedMode: false,
    right: W - (f[0] + FW - 10), bottom: H - (f[1] + FH - 8.5),
    orient: 'horizontal', icon: 'rect', itemWidth: 40, itemHeight: 4.8,
    padding: [7, 8, 7, 5],
    backgroundColor: '#fff', borderColor: '#d4d4d4', borderWidth: 1.5, borderRadius: 5,
    textStyle: {fontSize: 18, fontFamily: FONT, color: TXT, padding: [0, 0, 0, 7]}
  });
});

const graphics = [];
rowTitles.forEach(function (lines, r) {
  graphics.push({type: 'text', x: 50 - BASE_OFF, y: rowCenters[r], rotation: Math.PI / 2, z: 10,
    style: {text: lines[0], font: BIG, fill: '#000', textAlign: 'center', textVerticalAlign: 'middle', align: 'center', verticalAlign: 'middle'}});
  graphics.push({type: 'text', x: 133 - BASE_OFF, y: rowCenters[r], rotation: Math.PI / 2, z: 10,
    style: {text: lines[1], font: BIG, fill: '#000', textAlign: 'center', textVerticalAlign: 'middle', align: 'center', verticalAlign: 'middle'}});
});
panelLetters.forEach(function (ch, i) {
  graphics.push({type: 'text', x: letterPos[i][0], y: letterPos[i][1] - BASE_OFF, z: 10,
    style: {text: ch, font: BIG, fill: '#000', textAlign: 'left', textVerticalAlign: 'middle', align: 'left', verticalAlign: 'middle'}});
});

const chart = echarts.init(document.getElementById('chart'), null, {renderer: 'canvas', width: W, height: H});
chart.setOption({
  animation: false,
  backgroundColor: '#fff',
  grid: grids,
  xAxis: xAxes,
  yAxis: yAxes,
  legend: legends,
  series: series,
  graphic: graphics
});
</script>
</body>
</html>
